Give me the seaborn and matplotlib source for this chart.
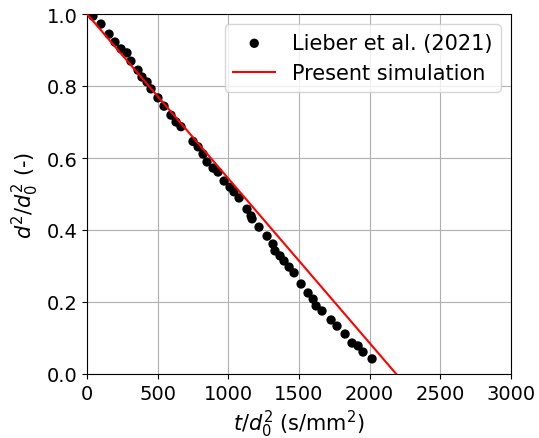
import matplotlib
matplotlib.use("Agg")
import matplotlib.pyplot as plt
import seaborn as sns
import numpy as np
import pandas as pd

# Experimental data (Lieber et al. 2021)
t_exp = [42, 99, 156, 198, 241, 283, 311, 361, 389, 425, 453, 502, 545, 594, 630,
         665, 750, 786, 821, 849, 892, 927, 970, 1012, 1040, 1076, 1132, 1161, 1168,
         1217, 1274, 1316, 1330, 1366, 1394, 1430, 1465, 1515, 1564, 1600, 1621,
         1663, 1727, 1769, 1826, 1875, 1918, 1953, 2017]
d_exp = [0.994, 0.972, 0.944, 0.922, 0.903, 0.892, 0.869, 0.844, 0.825, 0.811, 0.792,
         0.767, 0.744, 0.719, 0.700, 0.687, 0.646, 0.631, 0.611, 0.589, 0.572, 0.561,
         0.536, 0.519, 0.506, 0.489, 0.458, 0.439, 0.431, 0.408, 0.383, 0.361, 0.342,
         0.328, 0.314, 0.297, 0.281, 0.250, 0.225, 0.208, 0.189, 0.175, 0.150, 0.133,
         0.111, 0.086, 0.078, 0.061, 0.042]

# Present simulation
t_sim = [0, 2188]
d_sim = [1.0, 0.0]

exp_df = pd.DataFrame({"t": t_exp, "d": d_exp})
sim_df = pd.DataFrame({"t": t_sim, "d": d_sim})

fig = plt.figure(figsize=(5.39, 4.39), dpi=100)
ax = fig.add_axes([87/539, 1 - 375/439, (511-87)/539, (375-15)/439])

sns.scatterplot(data=exp_df, x="t", y="d", ax=ax, color="black", s=45,
                edgecolor="none", label="Lieber et al. (2021)", zorder=3)
sns.lineplot(data=sim_df, x="t", y="d", ax=ax, color="red", linewidth=1.5,
             label="Present simulation", zorder=4)

ax.set_xlim(0, 3000)
ax.set_ylim(0, 1.0)
ax.set_xticks([0, 500, 1000, 1500, 2000, 2500, 3000])
ax.set_yticks([0.0, 0.2, 0.4, 0.6, 0.8, 1.0])
ax.grid(True, color="#b0b0b0", linewidth=0.8)
ax.set_axisbelow(True)
ax.tick_params(labelsize=14)
ax.set_xlabel(r"$t/d_0^2$ (s/mm$^2$)", fontsize=15)
ax.set_ylabel(r"$d^2/d_0^2$ (-)", fontsize=15)
ax.legend(fontsize=15, loc="upper right")

fig.savefig("out.png", dpi=100)
